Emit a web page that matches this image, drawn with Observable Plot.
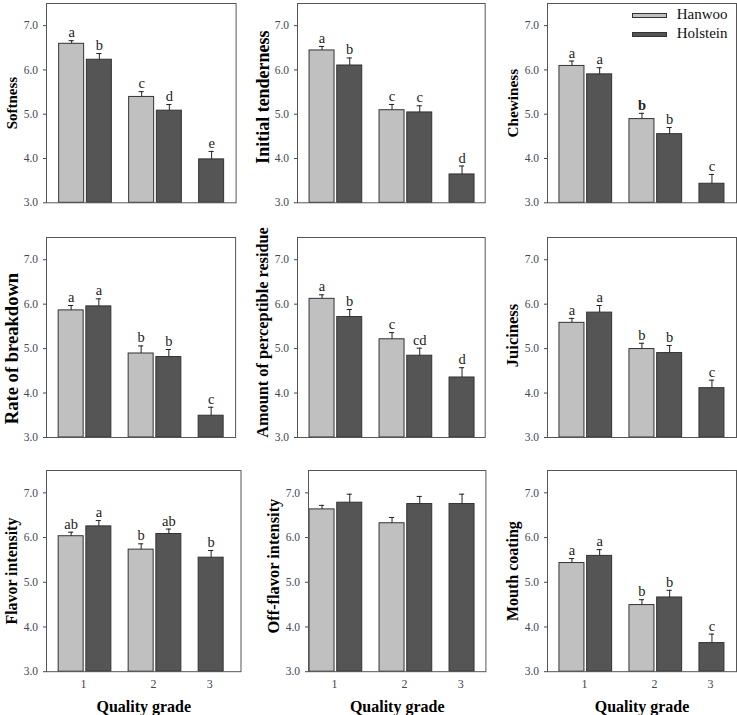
<!DOCTYPE html>
<html><head><meta charset="utf-8">
<script src="https://cdn.jsdelivr.net/npm/d3@7"></script>
<script src="https://cdn.jsdelivr.net/npm/@observablehq/plot@0.6"></script>
<style>
body{margin:0;background:#fff;overflow:hidden}
#wrap{position:relative;width:737px;height:715px;overflow:hidden;font-family:'Liberation Serif','Times New Roman',serif}
#wrap svg{position:absolute;overflow:visible}
.leg{position:absolute;font-size:15px;color:#111;line-height:1}
.sw{position:absolute;box-sizing:border-box;border:1px solid #333}
</style></head><body><div id="wrap"></div>
<script>
// ---------------- data ----------------
const grades = [1, 2, 3];
const breeds = ["Hanwoo", "Holstein"];
const attributes = ["Softness", "Initial tenderness", "Chewiness",
  "Rate of breakdown", "Amount of perceptible residue", "Juiciness",
  "Flavor intensity", "Off-flavor intensity", "Mouth coating"];
const hanwooMean = [
  [6.59, 5.39, null], [6.44, 5.09, null], [6.09, 4.89, null],
  [5.86, 4.89, null], [6.12, 5.21, null], [5.58, 4.99, null],
  [6.03, 5.73, null], [6.63, 6.32, null], [5.43, 4.49, null]];
const hanwooSE = [
  [0.07, 0.12, null], [0.09, 0.13, null], [0.11, 0.13, null],
  [0.11, 0.17, null], [0.09, 0.15, null], [0.10, 0.13, null],
  [0.09, 0.13, null], [0.09, 0.13, null], [0.10, 0.12, null]];
const holsteinMean = [
  [6.23, 5.08, 3.98], [6.10, 5.04, 3.64], [5.90, 4.55, 3.43],
  [5.95, 4.81, 3.49], [5.71, 4.84, 4.35], [5.81, 4.90, 4.11],
  [6.25, 6.08, 5.55], [6.78, 6.75, 6.75], [5.59, 4.66, 3.64]];
const holsteinSE = [
  [0.14, 0.14, 0.18], [0.17, 0.15, 0.19], [0.15, 0.15, 0.21],
  [0.17, 0.17, 0.19], [0.17, 0.17, 0.22], [0.16, 0.17, 0.18],
  [0.13, 0.11, 0.16], [0.19, 0.17, 0.22], [0.14, 0.16, 0.20]];
const hanwooLetters = [
  ["a", "c", ""], ["a", "c", ""], ["a", "b", ""],
  ["a", "b", ""], ["a", "c", ""], ["a", "b", ""],
  ["ab", "b", ""], ["", "", ""], ["a", "b", ""]];
const holsteinLetters = [
  ["b", "d", "e"], ["b", "c", "d"], ["a", "b", "c"],
  ["a", "b", "c"], ["b", "cd", "d"], ["a", "b", "c"],
  ["a", "ab", "b"], ["", "", ""], ["a", "b", "c"]];
const yDomain = [3, 7.5];
const yTicks = [3, 4, 5, 6, 7];
const xTitle = "Quality grade";

// ---------------- layout / style ----------------
const frameLeft  = [45.7, 297.3, 546.7, 46.2, 297.3, 546.7, 46.2, 308.3, 546.7];
const frameRight = [235.3, 485, 735.7, 235.3, 485, 735.7, 240.7, 485.7, 735.7];
const gradeOnePx = [84.7, 335.7, 585];
const frameTop = [3, 236.7, 469.5];
const frameBottom = [202.3, 436.7, 670.7];
const pxPerGrade = 70;
const barW = 25 / 70, barGap = 2.7 / 70, capHalf = 2.6 / 70;
const labelSize = [15, 18, 15.3, 18.6, 16.3, 16.5, 15.9, 16.4, 16];
const labelShift = [0, -6, 0, 11, -5, -2, 0, -5, 0];
const boldLetter = "2-Hanwoo-2"; // panel-breed-grade drawn in bold in the original
const colors = {Hanwoo: "#c0c0c0", Holstein: "#555555"};
const serif = "'Liberation Serif','Times New Roman',serif";

const wrap = document.getElementById("wrap");

attributes.forEach((name, k) => {
  const row = Math.floor(k / 3), col = k % 3;
  const L = frameLeft[k], R = frameRight[k], T = frameTop[row], B = frameBottom[row];
  const g1 = gradeOnePx[col];
  const mL = 50, mR = 2, mT = 2, mB = row === 2 ? 46 : 2;
  const xDomain = [1 - (g1 - L) / pxPerGrade, 1 + (R - g1) / pxPerGrade];

  const bars = [];
  const tickPos = [];
  grades.forEach((g, i) => {
    const present = [];
    if (hanwooMean[k][i] != null) present.push({breed: "Hanwoo", mean: hanwooMean[k][i], se: hanwooSE[k][i], letter: hanwooLetters[k][i]});
    if (holsteinMean[k][i] != null) present.push({breed: "Holstein", mean: holsteinMean[k][i], se: holsteinSE[k][i], letter: holsteinLetters[k][i]});
    present.forEach((d, s) => {
      d.grade = g;
      d.x1 = g - barW - barGap / 2 + s * (barW + barGap);
      d.x2 = d.x1 + barW;
      d.xc = (d.x1 + d.x2) / 2;
      d.top = d.mean + d.se;
      d.bold = `${k}-${d.breed}-${g}` === boldLetter;
      bars.push(d);
    });
    tickPos.push({grade: g, x: d3.mean(present, d => d.xc) - 0.02});
  });

  const lettered = bars.filter(d => d.letter);
  const marks = [
    Plot.rect(bars, {x1: "x1", x2: "x2", y1: yDomain[0], y2: "mean",
      fill: d => colors[d.breed], stroke: "#333", strokeWidth: 1}),
    Plot.ruleX(bars, {x: "xc", y1: "mean", y2: "top", stroke: "#222", strokeWidth: 1}),
    Plot.ruleY(bars, {y: "top", x1: d => d.xc - capHalf, x2: d => d.xc + capHalf, stroke: "#222", strokeWidth: 1}),
    Plot.text(lettered.filter(d => !d.bold), {x: "xc", y: "top", text: "letter", dy: -3.5,
      lineAnchor: "bottom", fontSize: 14.5, fill: "#222", fontFamily: serif}),
    Plot.text(lettered.filter(d => d.bold), {x: "xc", y: "top", text: "letter", dy: -3.5,
      lineAnchor: "bottom", fontSize: 14.5, fontWeight: "bold", fill: "#222", fontFamily: serif}),
    Plot.frame({stroke: "#555", strokeWidth: 1}),
    Plot.axisY({ticks: yTicks, tickFormat: d3.format(".1f"), tickSize: 3, tickPadding: 5.5,
      fontSize: 11.5, color: "#414859", label: null, fontFamily: serif}),
    Plot.text([name], {frameAnchor: "left", rotate: -90, dx: -34.5, dy: labelShift[k],
      textAnchor: "middle", lineAnchor: "middle",
      fontSize: labelSize[k], fontWeight: "bold", fill: "#000", fontFamily: serif})
  ];
  if (row === 2) {
    marks.push(Plot.text(tickPos, {x: "x", y: yDomain[0], text: d => String(d.grade), dy: 12.5,
      lineAnchor: "middle", fontSize: 12, fill: "#414859", fontFamily: serif}));
    marks.push(Plot.text([xTitle], {frameAnchor: "bottom", dy: 35.2, lineAnchor: "middle",
      textAnchor: "middle", fontSize: 16, fontWeight: "bold", fill: "#000", fontFamily: serif}));
  }

  const svg = Plot.plot({
    width: mL + (R - L) + mR,
    height: mT + (B - T) + mB,
    marginLeft: mL, marginRight: mR, marginTop: mT, marginBottom: mB,
    x: {domain: xDomain, axis: null},
    y: {domain: yDomain, axis: null, label: null},
    style: {fontFamily: serif, background: "transparent", overflow: "visible"},
    marks
  });
  svg.style.left = (L - mL) + "px";
  svg.style.top = (T - mT) + "px";
  wrap.appendChild(svg);
});

// legend (inside Chewiness panel, top right)
const legTop = [13.3, 32.3];
breeds.forEach((b, i) => {
  const sw = document.createElement("div");
  sw.className = "sw";
  sw.style.cssText = `left:632.3px;top:${legTop[i]}px;width:35px;height:5px;background:${colors[b]}`;
  wrap.appendChild(sw);
  const t = document.createElement("div");
  t.className = "leg";
  t.textContent = b;
  t.style.left = "676.7px";
  t.style.top = (legTop[i] + 2.5 - 8.5) + "px";
  wrap.appendChild(t);
});
</script></body></html>
